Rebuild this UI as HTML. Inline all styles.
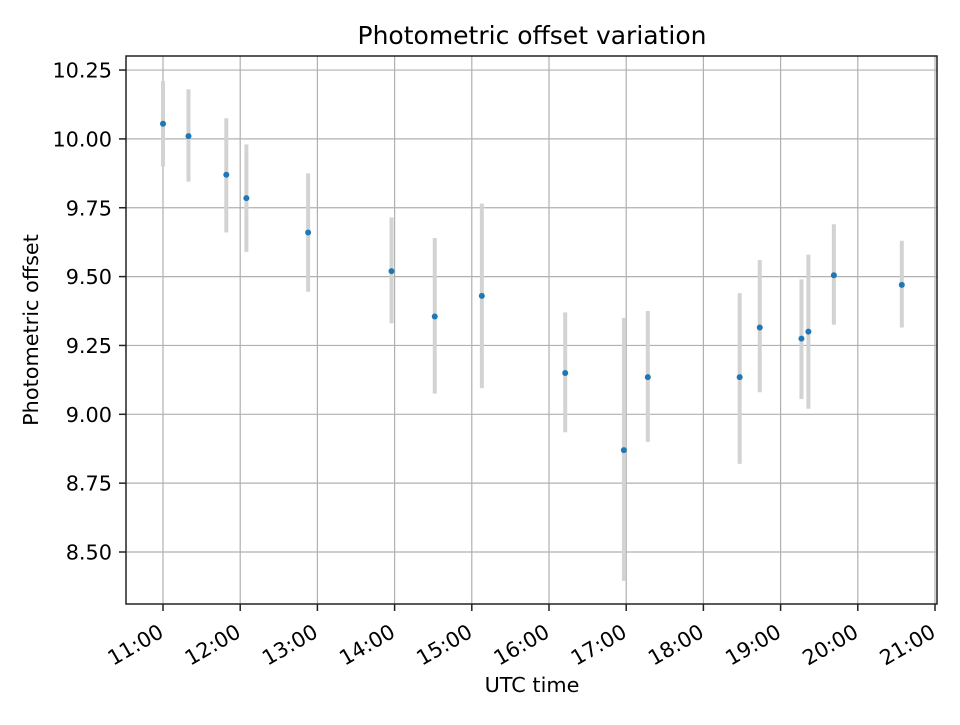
<!DOCTYPE html>
<html><head><meta charset="utf-8"><style>body{margin:0;background:#fff}svg{font-family:"DejaVu Sans","Liberation Sans",sans-serif}</style></head>
<body>
<svg id="chart" width="960" height="720">
<text x="532" y="44" text-anchor="middle" font-size="25">Photometric offset variation</text>
<g id="grid"></g><g id="marks"></g><g id="axes"></g>
<rect x="126" y="56" width="811" height="548" fill="none" stroke="#222" stroke-width="1.5"/>
<text x="532" y="692" text-anchor="middle" font-size="20.8">UTC time</text>
<text transform="translate(38,330) rotate(-90)" text-anchor="middle" font-size="20.8">Photometric offset</text>
</svg>
<script>
const times=[11.0,11.33,11.82,12.08,12.88,13.96,14.52,15.13,16.21,16.97,17.28,18.47,18.73,19.27,19.36,19.69,20.57];
const values=[10.055,10.01,9.87,9.785,9.66,9.52,9.355,9.43,9.15,8.87,9.135,9.135,9.315,9.275,9.30,9.505,9.47];
const errHigh=[10.21,10.18,10.075,9.98,9.875,9.715,9.64,9.765,9.37,9.35,9.375,9.44,9.56,9.49,9.58,9.69,9.63];
const errLow=[9.90,9.845,9.66,9.59,9.445,9.33,9.075,9.095,8.935,8.395,8.90,8.82,9.08,9.055,9.02,9.325,9.315];
const xTicks=[11,12,13,14,15,16,17,18,19,20,21];
const xTickLabels=["11:00","12:00","13:00","14:00","15:00","16:00","17:00","18:00","19:00","20:00","21:00"];
const yTicks=[8.5,8.75,9.0,9.25,9.5,9.75,10.0,10.25];
const yTickLabels=["8.50","8.75","9.00","9.25","9.50","9.75","10.00","10.25"];
const X=h=>163+(h-11)*77.2;
const Y=v=>552-(v-8.5)*275.4;
const NS="http://www.w3.org/2000/svg";
function mk(t,a,p){const e=document.createElementNS(NS,t);for(const k in a)e.setAttribute(k,a[k]);p.appendChild(e);return e;}
const grid=document.getElementById('grid'),marks=document.getElementById('marks'),axes=document.getElementById('axes');
xTicks.forEach((t,i)=>{const x=X(t);
 const g=mk('line',{x1:x,x2:x,y1:56,y2:604,stroke:'#b0b0b0','stroke-width':1.2},grid);
 
 const tk=mk('line',{x1:x,x2:x,y1:604,y2:611,stroke:'#222','stroke-width':1.5},axes);
 
 const l=mk('text',{transform:`translate(${x+2},${636}) rotate(-30)`,'text-anchor':'end','font-size':20.8},axes);
 l.textContent=xTickLabels[i];
 
});
yTicks.forEach((t,i)=>{const y=Y(t);
 const g=mk('line',{x1:126,x2:937,y1:y,y2:y,stroke:'#b0b0b0','stroke-width':1.2},grid);
 
 const tk=mk('line',{x1:119,x2:126,y1:y,y2:y,stroke:'#222','stroke-width':1.5},axes);
 
 const l=mk('text',{x:112,y:y+7.5,'text-anchor':'end','font-size':20.8},axes);
 l.textContent=yTickLabels[i];
 
});
times.forEach((t,i)=>{const x=X(t);
 const e=mk('line',{x1:x,x2:x,y1:Y(errHigh[i]),y2:Y(errLow[i]),stroke:'#d3d3d3','stroke-width':4},marks);
 
});
times.forEach((t,i)=>{
 const c=mk('circle',{cx:X(t),cy:Y(values[i]),r:3,fill:'#1f77b4'},marks);
 
});
</script>
</body></html>
